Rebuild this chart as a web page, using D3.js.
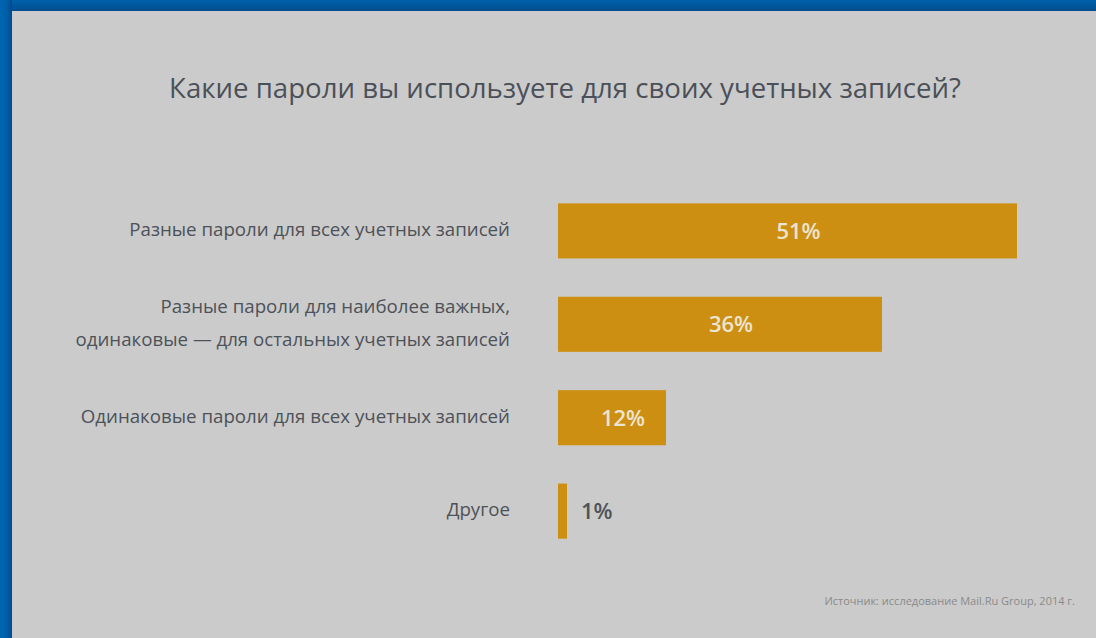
<!DOCTYPE html>
<html><head><meta charset="utf-8">
<script src="https://cdn.jsdelivr.net/npm/d3@7"></script>
<style>html,body{margin:0;padding:0;background:#cbcbcb;overflow:hidden}</style>
</head><body>
<svg id="c" width="1096" height="638"></svg>
<script>
const title = "Какие пароли вы используете для своих учетных записей?";
const categories = [
  ["Разные пароли для всех учетных записей"],
  ["Разные пароли для наиболее важных,", "одинаковые — для остальных учетных записей"],
  ["Одинаковые пароли для всех учетных записей"],
  ["Другое"]
];
const values = [51, 36, 12, 1];
const source = "Источник: исследование Mail.Ru Group, 2014 г.";

const W = 1096, H = 638;
const svg = d3.select("#c");
const defs = svg.append("defs");
const gl = defs.append("linearGradient").attr("id","gl").attr("x1","0").attr("x2","1").attr("y1","0").attr("y2","0");
gl.append("stop").attr("offset","0").attr("stop-color","#0066b2");
gl.append("stop").attr("offset","0.6").attr("stop-color","#005ea6");
gl.append("stop").attr("offset","1").attr("stop-color","#00478a");
const gt = defs.append("linearGradient").attr("id","gt").attr("x1","0").attr("x2","0").attr("y1","0").attr("y2","1");
gt.append("stop").attr("offset","0").attr("stop-color","#0062ab");
gt.append("stop").attr("offset","1").attr("stop-color","#004c8e");

svg.append("rect").attr("width",W).attr("height",H).attr("fill","#cbcbcb");
svg.append("rect").attr("x",0).attr("y",0).attr("width",W).attr("height",11).attr("fill","url(#gt)");
svg.append("rect").attr("x",0).attr("y",0).attr("width",12).attr("height",H).attr("fill","url(#gl)");

const font = "'Open Sans', 'Noto Sans', sans-serif";
svg.append("text").attr("x",565).attr("y",98).attr("text-anchor","middle")
  .attr("font-family",font).attr("font-size",27.6).attr("fill","#4b5058").text(title);

const x = d3.scaleLinear().domain([0, 51]).range([558, 1017]);
const y = d3.scaleBand().domain(d3.range(values.length)).range([180, 562]).paddingInner(0.41).paddingOuter(0.25);

const g = svg.append("g");
g.selectAll("rect.bar").data(values).join("rect").attr("class","bar")
  .attr("x", x(0)).attr("y",(d,i)=>y(i)).attr("width",d=>x(d)-x(0)).attr("height",y.bandwidth())
  .attr("fill","#cd8f12");

g.selectAll("text.val").data(values).join("text").attr("class","val")
  .attr("x",(d)=> d >= 5 ? (x(0)+x(d))/2 + 11 : x(d)+14)
  .attr("y",(d,i)=>y(i)+y.bandwidth()/2 + 8)
  .attr("text-anchor",d=> d>=5 ? "middle" : "start")
  .attr("font-family",font).attr("font-weight",600).attr("font-size",22)
  .attr("fill",d=> d>=5 ? "#ece4d2" : "#4f5358")
  .text(d=>d+"%");

const lab = g.selectAll("text.lab").data(categories).join("text").attr("class","lab")
  .attr("text-anchor","end").attr("font-family",font).attr("font-size",18.7).attr("fill","#4d5259");
lab.each(function(lines,i){
  const t = d3.select(this);
  const cy = y(i)+y.bandwidth()/2;
  const lh = 33;
  const start = cy + 5 - (lines.length-1)*lh/2;
  lines.forEach((s,k)=>{
    t.append("tspan").attr("x",510).attr("y",start + k*lh).text(s);
  });
});

svg.append("text").attr("x",1075).attr("y",605).attr("text-anchor","end")
  .attr("font-family",font).attr("font-size",11).attr("fill","#8a8a8a").text(source);
</script>
</body></html>
